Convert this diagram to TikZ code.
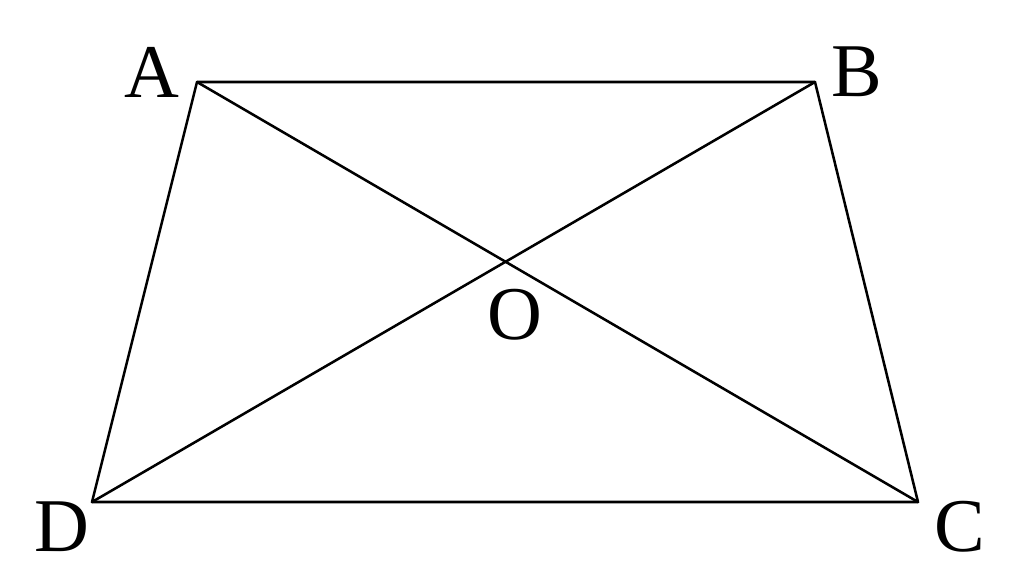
\documentclass[tikz,border=0pt]{standalone}
\usepackage{fontspec}
\setmainfont{Liberation Serif}
\begin{document}
\begin{tikzpicture}[x=0.025cm,y=-0.025cm,
  edge/.style={line width=1.8pt,line join=round,line cap=round},
  lbl/.style={font=\fontsize{54}{58}\selectfont,inner sep=0pt}]
\useasboundingbox (0,0) rectangle (1024,587);
\coordinate (A) at (197,82);
\coordinate (B) at (815,82);
\coordinate (C) at (918,502);
\coordinate (D) at (92,502);
\draw[edge] (A) -- (B) -- (C) -- (D) -- cycle;
\draw[edge] (A) -- (C);
\draw[edge] (B) -- (D);
\node[lbl] (la) at (152,72) {A};
\node[lbl] (lb) at (857,72) {B};
\node[lbl] (lc) at (960,527) {C};
\node[lbl] (ld) at (62,527) {D};
\node[lbl] (lo) at (515,315) {O};
\end{tikzpicture}
\end{document}
